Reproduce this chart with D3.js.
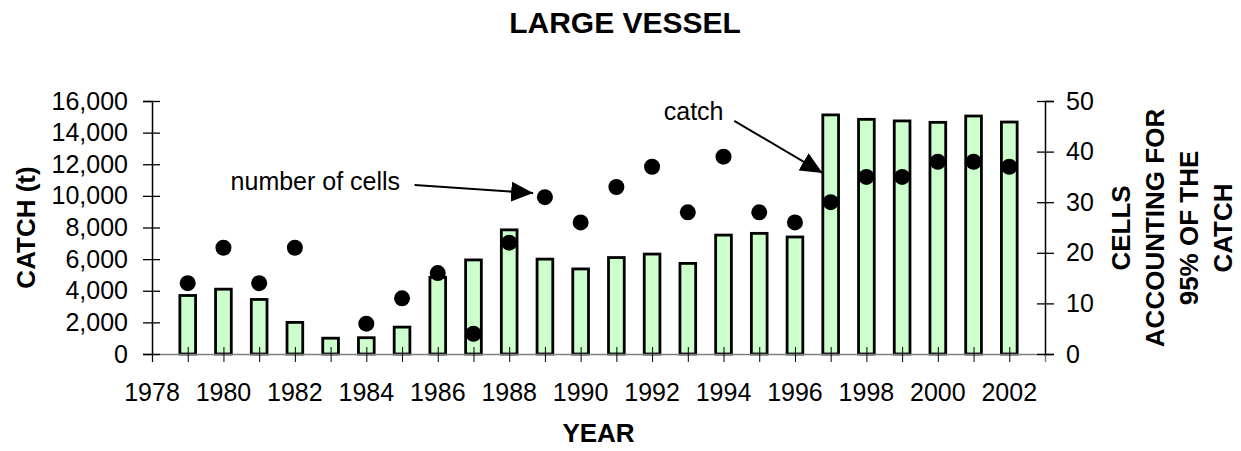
<!DOCTYPE html>
<html>
<head>
    <script src="https://d3js.org/d3.v7.min.js"></script>
    <style>
        body {
            margin: 0;
            background: #fff;
            font-family: Arial, 'Liberation Sans', sans-serif;
        }

        .tick text {
            font-size: 25px;
            fill: #000;
        }

        .axis-title {
            font-size: 26px;
            font-weight: bold;
        }
    </style>
</head>

<body>
    <script>
        // values
        const years = d3.range(1979, 2003);
        const catchT = [3700, 4100, 3450, 2000, 1000, 1030, 1700, 4850, 5950, 7850,
            6000, 5380, 6100, 6320, 5730, 7520, 7630, 7400,
            15120, 14840, 14740, 14650, 15050, 14670];
        const cells = [14, 21, 14, 21, null, 6, 11, 16, 4, 22,
            31, 26, 33, 37, 28, 39, 28, 26,
            30, 35, 35, 38, 38, 37];
        const catchTicks = d3.range(0, 16001, 2000);
        const cellTicks = d3.range(0, 51, 10);
        const yearLabels = d3.range(1978, 2003, 2);

        const width = 1241,
            height = 451;
        const margin = {left: 152, right: 196, top: 101, bottom: 97};

        const svg = d3.select('body').append('svg')
            .attr('width', width)
            .attr('height', height);

        const x = d3.scaleLinear()
            .domain([1978, 2003])
            .range([margin.left, width - margin.right]);

        const yL = d3.scaleLinear()
            .domain([0, 16000])
            .range([height - margin.bottom, margin.top]);

        const yR = d3.scaleLinear()
            .domain([0, 50])
            .range([height - margin.bottom, margin.top]);

        const step = x(1980) - x(1979);
        const barW = step * 0.44;

        // bars
        svg.append('g').selectAll('rect')
            .data(years)
            .join('rect')
            .attr('x', (d) => x(d) - barW / 2)
            .attr('y', (d, i) => yL(catchT[i]))
            .attr('width', barW)
            .attr('height', (d, i) => yL(0) - yL(catchT[i]))
            .attr('fill', '#ccffcc')
            .attr('stroke', '#000')
            .attr('stroke-width', 2.8);

        // x axis
        const xAxis = svg.append('g')
            .attr('transform', `translate(0,${yL(0)})`)
            .call(d3.axisBottom(x)
                .tickValues(d3.range(1978, 2003))
                .tickSize(8)
                .tickFormat(() => ''));
        xAxis.select('.domain').attr('stroke', '#808080').attr('stroke-width', 1.5);
        xAxis.selectAll('.tick line').attr('y1', -7).attr('stroke', '#000');

        svg.append('g').selectAll('text')
            .data(yearLabels)
            .join('text')
            .attr('x', (d) => x(d))
            .attr('y', 401)
            .attr('text-anchor', 'middle')
            .attr('font-size', 25)
            .text((d) => d);

        // left axis
        const leftAxis = svg.append('g')
            .attr('transform', `translate(${margin.left},0)`)
            .call(d3.axisLeft(yL)
                .tickValues(catchTicks)
                .tickSize(9)
                .tickPadding(15)
                .tickFormat(d3.format(',')));
        leftAxis.select('.domain').attr('stroke', '#000').attr('stroke-width', 1.5);
        leftAxis.selectAll('.tick line').attr('x2', 8).attr('x1', -9).attr('stroke-width', 1.3);

        // right axis
        const rightAxis = svg.append('g')
            .attr('transform', `translate(${width - margin.right},0)`)
            .call(d3.axisRight(yR)
                .tickValues(cellTicks)
                .tickSize(9)
                .tickPadding(12));
        rightAxis.select('.domain').attr('stroke', '#000').attr('stroke-width', 1.5);
        rightAxis.selectAll('.tick line').attr('x1', -8).attr('stroke-width', 1.3);

        // dots
        svg.append('g').selectAll('circle')
            .data(years.map((d, i) => ({year: d, v: cells[i]})).filter((d) => d.v != null))
            .join('circle')
            .attr('cx', (d) => x(d.year))
            .attr('cy', (d) => yR(d.v))
            .attr('r', 8)
            .attr('fill', '#000');

        // titles
        svg.append('text')
            .attr('x', 625)
            .attr('y', 33)
            .attr('text-anchor', 'middle')
            .attr('font-size', 30)
            .attr('font-weight', 'bold')
            .text('LARGE VESSEL');

        svg.append('text')
            .attr('class', 'axis-title')
            .attr('x', (x.range()[0] + x.range()[1]) / 2)
            .attr('y', 442)
            .attr('text-anchor', 'middle')
            .text('YEAR');

        svg.append('text')
            .attr('class', 'axis-title')
            .attr('transform', `translate(35,${(yL.range()[0] + yL.range()[1]) / 2}) rotate(-90)`)
            .attr('text-anchor', 'middle')
            .text('CATCH (t)');

        const rightTitle = ['CELLS', 'ACCOUNTING FOR', '95% OF THE', 'CATCH'];
        svg.append('g').selectAll('text')
            .data(rightTitle)
            .join('text')
            .attr('class', 'axis-title')
            .attr('transform', (d, i) => `translate(${1130 + i * 34},228) rotate(-90)`)
            .attr('text-anchor', 'middle')
            .text((d) => d);

        // annotations
        svg.append('defs').append('marker')
            .attr('id', 'head')
            .attr('markerUnits', 'userSpaceOnUse')
            .attr('viewBox', '0 0 22 20')
            .attr('refX', 22)
            .attr('refY', 10)
            .attr('markerWidth', 22)
            .attr('markerHeight', 20)
            .attr('orient', 'auto')
            .append('path')
            .attr('d', 'M0,0L22,10L0,20Z')
            .attr('fill', '#000');

        svg.append('text')
            .attr('x', x(1980.2))
            .attr('y', 190)
            .attr('font-size', 25)
            .text('number of cells');
        svg.append('line')
            .attr('x1', x(1985.35)).attr('y1', yR(33.4))
            .attr('x2', x(1988.67)).attr('y2', yR(31.8))
            .attr('stroke', '#000').attr('stroke-width', 2)
            .attr('marker-end', 'url(#head)');

        svg.append('text')
            .attr('x', x(1994))
            .attr('y', 120)
            .attr('text-anchor', 'end')
            .attr('font-size', 25)
            .text('catch');
        svg.append('line')
            .attr('x1', x(1994.3)).attr('y1', yL(14750))
            .attr('x2', x(1996.77)).attr('y2', yL(11450))
            .attr('stroke', '#000').attr('stroke-width', 2)
            .attr('marker-end', 'url(#head)');
    </script>
</body>

</html>
